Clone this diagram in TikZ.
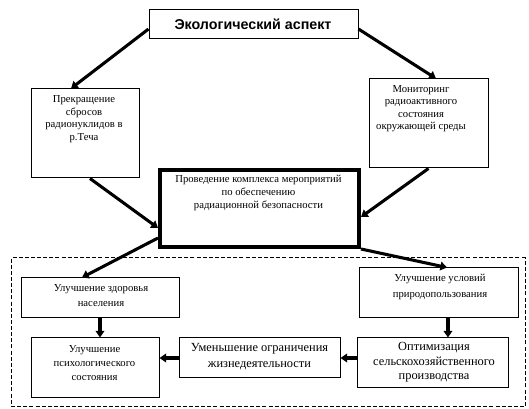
\documentclass[tikz,border=0pt]{standalone}
\usepackage{fontspec}
\setmainfont{Liberation Serif}
\setsansfont{Liberation Sans}
\usetikzlibrary{arrows.meta,calc}
\tikzset{
  nd_box/.style={rectangle,draw=black,line width=0.75pt,inner sep=0pt},
  nd_main/.style={rectangle,draw=black,line width=3pt,inner sep=0pt},
  nd_frame/.style={rectangle,draw=black,line width=0.75pt,dash pattern=on 3pt off 1.6pt,inner sep=0pt},
  nd_txt/.style={align=center,inner sep=0pt,font=\fontsize{8}{9.4}\selectfont},
  nd_big/.style={align=center,inner sep=0pt,font=\fontsize{9.3}{11}\selectfont},
  nd_head/.style={inner sep=0pt,font=\fontsize{10.7}{12}\selectfont\sffamily\bfseries},
  arr/.style={-{Triangle[length=5pt,width=6.5pt]},line width=2.3pt},
}
\newcommand{\pxbox}[6][nd_box]{%
  \node[#1,minimum width={(#5-#3)*0.75pt},minimum height={(#6-#4)*0.75pt}] (#2) at ({(#3+#5)/2},{(#4+#6)/2}) {};}

\begin{document}
\begin{tikzpicture}[x=0.75pt,y=-0.75pt]
\useasboundingbox (0,0) rectangle (529,409);
% boxes
\pxbox{T}{149}{10}{358}{39}
\pxbox{L}{31}{89}{139}{178}
\pxbox{R}{369}{79}{488}{168}
\pxbox[nd_main]{C}{160}{170}{359}{247}
\pxbox[nd_frame]{D}{11}{258}{525}{407}
\pxbox{H}{21}{278}{179}{318}
\pxbox{U}{359}{268}{518}{318}
\pxbox{P}{31}{338}{159}{398}
\pxbox{M}{179}{338}{340}{378}
\pxbox{O}{357}{338}{508}{388}
% texts
\node[nd_head] (Tt) at (253,24) {Экологический аспект};
\node[nd_txt] (Lt) at (84,119) {Прекращение\\сбросов\\радионуклидов в\\р.Теча};
\node[nd_txt] (Rt) at (421,108.5) {Мониторинг\\радиоактивного\\состояния\\окружающей среды};
\node[nd_txt] (Ct) at (258.5,193) {Проведение комплекса мероприятий\\по обеспечению\\радиационной безопасности};
\node[nd_txt] (Ht) at (101,295.5) {Улучшение здоровья\\[1.8pt]населения};
\node[nd_txt] (Ut) at (440,287) {Улучшение условий\\[2.6pt]природопользования};
\node[nd_txt] (Pt) at (94.5,363) {Улучшение\\[1.1pt]психологического\\[1.1pt]состояния};
\node[nd_big] (Mt) at (259.5,356.5) {Уменьшение ограничения\\[1.5pt]жизнедеятельности};
\node[nd_big] (Ot) at (434,362.5) {Оптимизация\\сельскохозяйственного\\производства};
% arrows
\draw[arr] ([yshift=-3.4pt]T.west) -- ([xshift=-10.5pt]L.north);
\draw[arr] ([yshift=-3.4pt]T.east) -- ([xshift=5.6pt]R.north);
\draw[arr] ([xshift=3.75pt]L.south) -- ([yshift=-14.6pt]C.west);
\draw[arr] (R.south) -- ([yshift=-6.4pt]C.east);
\draw[arr] ([yshift=8.25pt]C.south west) -- ([xshift=-13.5pt]H.north);
\draw[arr] (C.south east) -- ([xshift=6.4pt]U.north);
\draw[arr] (H.south) -- (H.south |- P.north);
\draw[arr] ([xshift=7.1pt]U.south) -- ([xshift=7.1pt]U.south |- O.north);
\draw[arr] (M.west) -- (M.west -| P.east);
\draw[arr] (O.west |- M.east) -- (M.east);
\end{tikzpicture}
\end{document}
